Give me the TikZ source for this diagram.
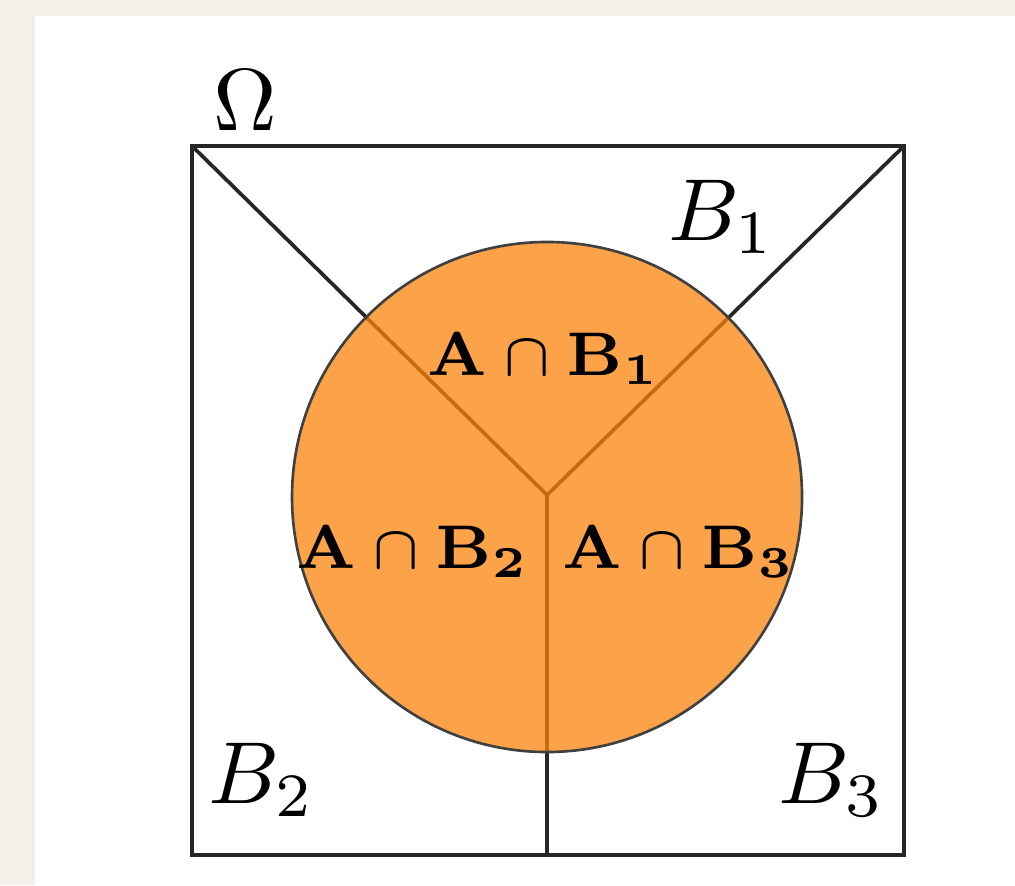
\documentclass[tikz,border=0pt]{standalone}
\usepackage{amsmath,amssymb}
\usepackage{xcolor}
\usepackage{tikz}
\definecolor{pagebeige}{RGB}{243,240,234}
\definecolor{eventorange}{RGB}{251,132,11}
\tikzset{
  partline/.style={draw=black!85,line width=0.42pt},
  eventdisc/.style={fill=eventorange,fill opacity=0.75,draw=black!75,line width=0.3pt},
  setlabel/.style={font=\normalsize,inner sep=0pt},
  cutlabel/.style={font=\scriptsize,inner sep=0pt}
}

\begin{document}
\begin{tikzpicture}[x=0.1136pt,y=-0.1136pt]
  \fill[pagebeige] (0,0) rectangle (1015,885);
  \fill[white] (35,16) rectangle (1015,885);
  \useasboundingbox (0,0) rectangle (1015,885);
  % sample space and its three parts
  \coordinate (tl) at (192,146);
  \coordinate (tr) at (904,146);
  \coordinate (bl) at (192,855);
  \coordinate (br) at (904,855);
  \coordinate (ctr) at (547,495);
  \coordinate (bot) at (547,855);
  \draw[partline] (tl) rectangle (br);
  \draw[partline] (tl) -- (ctr);
  \draw[partline] (tr) -- (ctr);
  \draw[partline] (ctr) -- (bot);
  % the event A
  \path[eventdisc] (547,497) circle[radius=255];
  \node[setlabel] (omega) at (245,100) {$\Omega$};
  \node[setlabel] (b1) at (722,217) {$B_1$};
  \node[setlabel] (b2) at (262,780) {$B_2$};
  \node[setlabel] (b3) at (832,780) {$B_3$};
  \node[cutlabel] (ab1) at (544,359) {$\mathbf{A\cap B_1}$};
  \node[cutlabel] (ab2) at (413,552) {$\mathbf{A\cap B_2}$};
  \node[cutlabel] (ab3) at (679,552) {$\mathbf{A\cap B_3}$};
\end{tikzpicture}
\end{document}
